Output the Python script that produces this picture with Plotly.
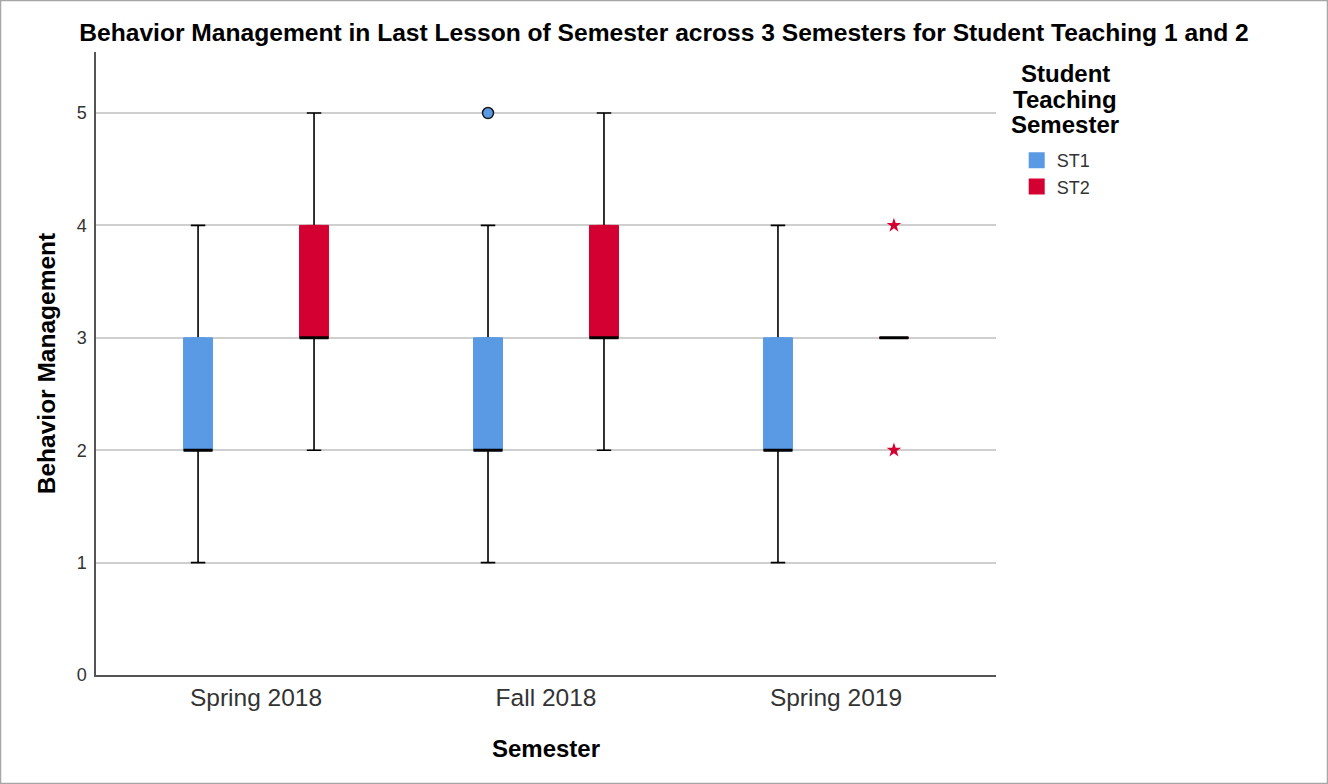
import plotly.graph_objects as go

semesters = ["Spring 2018", "Fall 2018", "Spring 2019"]

# box statistics per semester (ST1)
st1_low = [1, 1, 1]
st1_q1 = [2, 2, 2]
st1_med = [2, 2, 2]
st1_q3 = [3, 3, 3]
st1_high = [4, 4, 4]

# box statistics per semester (ST2)
st2_low = [2, 2, 3]
st2_q1 = [3, 3, 3]
st2_med = [3, 3, 3]
st2_q3 = [4, 4, 3]
st2_high = [5, 5, 3]

# outliers (circle) and extremes (star)
st1_out_sem = ["Fall 2018"]
st1_out_val = [5]
st2_ext_sem = ["Spring 2019", "Spring 2019"]
st2_ext_val = [4, 2]

legend_title_lines = ["Student", "Teaching", "Semester"]

BLUE = "#5A9AE4"
RED = "#D50032"
FONT = "Liberation Sans, Arial, sans-serif"

fig = go.Figure()


def add_group(name, color, offset, low, q1, med, q3, high):
    xs = [semesters.index(s) + offset for s in semesters]
    common = dict(x=xs, width=0.1, whiskerwidth=0.5, hoverinfo="skip",
                  showlegend=False)
    # whiskers + caps (box collapsed at median, hidden under the coloured box)
    fig.add_trace(go.Box(q1=med, median=med, q3=med, lowerfence=low,
                         upperfence=high, fillcolor="black",
                         line=dict(color="black", width=1.6), **common))
    # coloured IQR box
    fig.add_trace(go.Box(q1=q1, median=q1, q3=q3, lowerfence=q1,
                         upperfence=q3, fillcolor=color,
                         line=dict(color=color, width=1), **common))
    # median bar
    fig.add_trace(go.Box(q1=med, median=med, q3=med, lowerfence=med,
                         upperfence=med, fillcolor="black",
                         line=dict(color="black", width=3), **common))
    # legend swatch
    fig.add_trace(go.Scatter(x=[None], y=[None], mode="markers", name=name,
                             marker=dict(symbol="square", size=16, color=color)))


add_group("ST1", BLUE, -0.2, st1_low, st1_q1, st1_med, st1_q3, st1_high)
add_group("ST2", RED, 0.2, st2_low, st2_q1, st2_med, st2_q3, st2_high)

fig.add_trace(go.Scatter(
    x=[semesters.index(s) - 0.2 for s in st1_out_sem], y=st1_out_val,
    mode="markers", showlegend=False, hoverinfo="skip",
    marker=dict(symbol="circle", size=11, color=BLUE,
                line=dict(color="#1a1a1a", width=1.5)),
))
fig.add_trace(go.Scatter(
    x=[semesters.index(s) + 0.2 for s in st2_ext_sem], y=st2_ext_val,
    mode="markers", showlegend=False, hoverinfo="skip",
    marker=dict(symbol="star", size=11, color=RED, line=dict(width=0)),
))

# legend title as centred lines
for i, line in enumerate(legend_title_lines):
    fig.add_annotation(
        text=f"<b>{line}</b>", xref="paper", yref="paper",
        x=(1065 - 96) / 900, y=(675 - 74 - 25 * i) / 623,
        xanchor="center", yanchor="middle", showarrow=False,
        font=dict(size=24, color="black", family=FONT),
    )

fig.update_layout(
    width=1328,
    height=784,
    margin=dict(l=96, r=332, t=52, b=109),
    paper_bgcolor="white",
    plot_bgcolor="white",
    font=dict(family=FONT, color="#222222"),
    title=dict(
        text="<b>Behavior Management in Last Lesson of Semester across 3 Semesters for Student Teaching 1 and 2</b>",
        x=0.5, xanchor="center", xref="container",
        y=1 - 32 / 784, yanchor="middle", yref="container",
        font=dict(size=24.6, color="black", family=FONT),
    ),
    legend=dict(
        x=1.023, xanchor="left", y=(675 - 142) / 623, yanchor="top",
        font=dict(size=18, color="#333333", family=FONT),
        itemsizing="trace",
        tracegroupgap=0,
    ),
    shapes=[dict(type="rect", xref="paper", yref="paper",
                 x0=-95.5 / 900, x1=1231.5 / 900,
                 y0=-108.5 / 623, y1=674.5 / 623,
                 line=dict(color="#a6a6a6", width=1.5), layer="above")],
)

fig.update_xaxes(
    range=[-0.552, 2.552],
    tickmode="array",
    tickvals=list(range(len(semesters))),
    ticktext=semesters,
    tickfont=dict(size=24.5, color="#333333"),
    showgrid=False,
    zeroline=False,
    showline=True,
    linecolor="#555555",
    linewidth=1.5,
    ticks="",
    title=dict(text="<b>Semester</b>", standoff=30,
               font=dict(size=24, color="black")),
)

fig.update_yaxes(
    range=[0, 5.543],
    tickmode="array",
    tickvals=[0, 1, 2, 3, 4, 5],
    tickfont=dict(size=18, color="#333333"),
    ticklabelstandoff=4,
    showgrid=True,
    gridcolor="#cfcfcf",
    gridwidth=1.5,
    zeroline=False,
    showline=True,
    linecolor="#555555",
    linewidth=1.5,
    ticks="",
    title=dict(text="<b>Behavior Management</b>", standoff=14,
               font=dict(size=24.5, color="black")),
)

fig.write_html("out.html", config={"displayModeBar": False},
               post_script="document.body.style.margin='0';")
